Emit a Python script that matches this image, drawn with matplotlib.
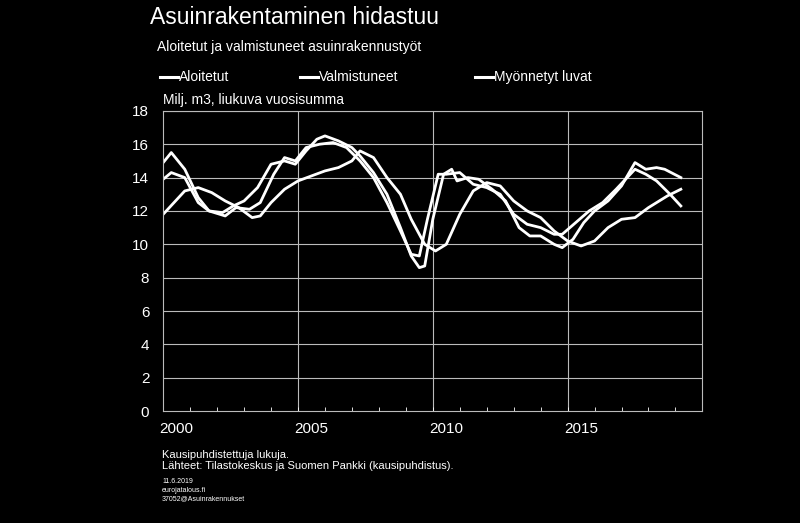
import numpy as np
import matplotlib.pyplot as plt

plt.rcParams["font.family"] = "Liberation Sans"

# Aloitetut
years_alo = [2000.0, 2000.3, 2000.8, 2001.3, 2001.7, 2002.2, 2002.6, 2003.0, 2003.5, 2004.0,
             2004.5, 2004.9, 2005.3, 2005.7, 2006.0, 2006.5, 2007.0, 2007.3, 2007.8, 2008.3,
             2008.8, 2009.2, 2009.5, 2009.7, 2010.0, 2010.4, 2010.7, 2010.9, 2011.3, 2011.7,
             2012.2, 2012.7, 2013.2, 2013.6, 2014.0, 2014.5, 2014.8, 2015.2, 2015.6, 2016.0,
             2016.5, 2017.0, 2017.5, 2017.9, 2018.3, 2018.6, 2019.2]
vals_alo = [14.9, 15.5, 14.5, 12.8, 12.0, 11.9, 12.3, 12.6, 13.4, 14.8,
            15.0, 14.8, 15.6, 16.3, 16.5, 16.2, 15.8, 15.3, 14.3, 13.0,
            11.0, 9.3, 8.6, 8.7, 11.5, 14.2, 14.5, 13.8, 14.0, 13.9,
            13.3, 12.6, 11.0, 10.5, 10.5, 10.0, 9.8, 10.3, 11.3, 12.0,
            12.6, 13.5, 14.9, 14.5, 14.6, 14.5, 14.0]

# Valmistuneet
years_val = [2000.0, 2000.8, 2001.3, 2001.8, 2002.3, 2002.8, 2003.3, 2003.6, 2004.0, 2004.5,
             2005.0, 2005.5, 2006.0, 2006.5, 2007.0, 2007.3, 2007.8, 2008.3, 2008.8, 2009.2,
             2009.7, 2010.1, 2010.5, 2011.0, 2011.5, 2012.0, 2012.5, 2013.0, 2013.5, 2014.0,
             2014.5, 2015.0, 2015.5, 2016.0, 2016.5, 2017.0, 2017.5, 2018.0, 2018.7, 2019.2]
vals_val = [11.8, 13.2, 13.4, 13.1, 12.6, 12.2, 11.6, 11.7, 12.5, 13.3,
            13.8, 14.1, 14.4, 14.6, 15.0, 15.6, 15.2, 14.0, 13.0, 11.5,
            10.0, 9.6, 10.0, 11.8, 13.2, 13.7, 13.5, 12.6, 12.0, 11.6,
            10.8, 10.2, 9.9, 10.2, 11.0, 11.5, 11.6, 12.2, 12.9, 13.3]

# Myönnetyt luvat
years_lup = [2000.0, 2000.3, 2000.8, 2001.3, 2001.7, 2002.3, 2002.7, 2003.2, 2003.6, 2004.1,
             2004.5, 2004.9, 2005.3, 2005.8, 2006.3, 2006.8, 2007.3, 2007.8, 2008.3, 2008.8,
             2009.2, 2009.5, 2009.8, 2010.2, 2010.5, 2011.0, 2011.5, 2012.0, 2012.5, 2013.0,
             2013.5, 2014.0, 2014.5, 2014.8, 2015.3, 2015.8, 2016.3, 2016.8, 2017.5, 2017.9,
             2018.3, 2018.8, 2019.2]
vals_lup = [13.9, 14.3, 14.0, 12.5, 12.0, 11.7, 12.2, 12.1, 12.5, 14.2,
            15.2, 15.0, 15.8, 16.0, 16.1, 15.8, 15.0, 14.0, 12.5, 10.8,
            9.4, 9.3, 11.5, 14.2, 14.2, 14.3, 13.6, 13.4, 13.0, 11.8,
            11.2, 11.0, 10.6, 10.6, 11.3, 12.0, 12.5, 13.3, 14.5, 14.2,
            13.8, 13.0, 12.3]

y_ticks = [0, 2, 4, 6, 8, 10, 12, 14, 16, 18]
x_labels = ["2000", "2005", "2010", "2015"]

fig = plt.figure(figsize=(8, 5.23), dpi=100, facecolor="black")
ax = fig.add_axes([0.204, 0.214, 0.674, 0.574], facecolor="black")

for xs, ys in [(years_val, vals_val), (years_lup, vals_lup), (years_alo, vals_alo)]:
    ax.plot(xs, ys, color="white", lw=2.0)

ax.set_xlim(2000, 2020)
ax.set_ylim(0, 18)
ax.set_yticks(y_ticks)
ax.set_yticklabels([str(v) for v in y_ticks], color="white", fontsize=11)
ax.set_xticks([2000.5, 2005.5, 2010.5, 2015.5])
ax.set_xticklabels(x_labels, color="white", fontsize=11)
ax.set_xticks(np.arange(2000, 2021), minor=True)
ax.tick_params(axis="x", which="major", length=0, pad=8)
ax.tick_params(axis="x", which="minor", direction="in", length=3, color="white")
ax.tick_params(axis="y", length=0, pad=10)
for y in y_ticks[1:]:
    ax.axhline(y, color="#bbbbbb", lw=0.8, zorder=0)
for x in [2005, 2010, 2015]:
    ax.axvline(x, color="#bbbbbb", lw=0.8, zorder=0)
for s in ax.spines.values():
    s.set_color("#bbbbbb")
    s.set_linewidth(0.8)

fig.text(150 / 800, 1 - 18 / 523, "Asuinrakentaminen hidastuu", color="white",
         fontsize=16.5, va="center")
fig.text(157 / 800, 1 - 47 / 523, "Aloitetut ja valmistuneet asuinrakennustyöt",
         color="white", fontsize=10, va="center")
for lx, name in [(160, "Aloitetut"), (300, "Valmistuneet"), (475, "Myönnetyt luvat")]:
    fig.add_artist(plt.Line2D([lx / 800, (lx + 18) / 800], [1 - 77 / 523] * 2,
                              color="white", lw=2.2))
    fig.text((lx + 19) / 800, 1 - 77 / 523, name, color="white", fontsize=10, va="center")
fig.text(163 / 800, 1 - 100 / 523, "Milj. m3, liukuva vuosisumma", color="white",
         fontsize=10, va="center")
fig.text(162 / 800, 1 - 455 / 523, "Kausipuhdistettuja lukuja.", color="white",
         fontsize=8, va="center")
fig.text(162 / 800, 1 - 466 / 523,
         "Lähteet: Tilastokeskus ja Suomen Pankki (kausipuhdistus).", color="white",
         fontsize=8, va="center")
fig.text(162 / 800, 1 - 490 / 523, "11.6.2019\neurojatalous.fi\n37052@Asuinrakennukset",
         color="white", fontsize=5, va="center", linespacing=1.3)

fig.savefig("out.png", dpi=100, facecolor="black")
